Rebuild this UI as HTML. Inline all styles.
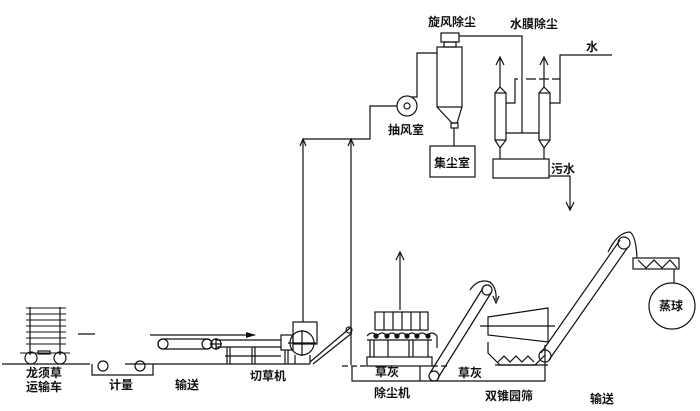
<!DOCTYPE html>
<html><head><meta charset="utf-8"><style>
html,body{margin:0;padding:0;background:#fff;}
svg{display:block}
text{font-family:"Liberation Sans","Noto Sans CJK SC",sans-serif;font-size:12px;font-weight:bold;fill:#111}
</style></head><body>
<svg width="700" height="411" viewBox="0 0 700 411" xmlns="http://www.w3.org/2000/svg">
<defs><marker id="a" viewBox="0 0 10 10" refX="5" refY="2" markerWidth="6" markerHeight="8" orient="auto-start-reverse"><path d="M1,9 L5,1 L9,9" fill="none" stroke="#111" stroke-width="1.5"/></marker></defs>
<g fill="none" stroke="#111" stroke-width="1.2">
<!-- ground -->
<line x1="2" y1="364" x2="90" y2="364"/><line x1="125" y1="364" x2="310" y2="364"/>
<line x1="78" y1="334" x2="95" y2="334"/>
<!-- cart -->
<line x1="30" y1="307" x2="30" y2="355"/><line x1="60" y1="307" x2="60" y2="355"/>
<g stroke-width="1"><line x1="26" y1="308" x2="66" y2="308"/><line x1="26" y1="314" x2="66" y2="314"/><line x1="26" y1="320" x2="66" y2="320"/><line x1="26" y1="326" x2="66" y2="326"/><line x1="26" y1="332" x2="66" y2="332"/><line x1="26" y1="338" x2="66" y2="338"/><line x1="26" y1="344" x2="66" y2="344"/><line x1="20" y1="353" x2="70" y2="353"/></g>
<rect x="38" y="351" width="12" height="3"/>
<circle cx="31" cy="358" r="6"/><circle cx="60" cy="358" r="6"/>
<!-- metering -->
<path d="M92,364 V375 H153 V364"/>
<circle cx="103" cy="366" r="5"/><circle cx="140" cy="366" r="5"/>
<!-- conveyor -->
<line x1="150" y1="335" x2="255" y2="335" marker-end="url(#a)" style="marker-end:none"/>
<path d="M246,332 L256,335 L246,338" fill="#111" stroke="none"/>
<path d="M163,339 H207 A5,5 0 0 1 207,349 H163 A5,5 0 0 1 163,339 Z"/>
<circle cx="163" cy="344" r="5"/><circle cx="207" cy="344" r="5"/>
<circle cx="216" cy="344" r="5"/><line x1="210" y1="344" x2="222" y2="344"/><line x1="216" y1="338" x2="216" y2="350"/>
<line x1="216" y1="340" x2="281" y2="340"/><line x1="216" y1="347" x2="281" y2="347"/><line x1="225" y1="356" x2="281" y2="356"/>
<line x1="227" y1="347" x2="227" y2="364"/><line x1="230" y1="347" x2="230" y2="364"/><line x1="252" y1="347" x2="252" y2="364"/><line x1="255" y1="347" x2="255" y2="364"/><line x1="285" y1="350" x2="285" y2="364"/><line x1="288" y1="350" x2="288" y2="364"/>
<!-- cutter -->
<rect x="293" y="322" width="24" height="22"/>
<rect x="281" y="335" width="12" height="15"/>
<circle cx="302" cy="343" r="12"/><line x1="288" y1="343" x2="316" y2="343"/><line x1="302" y1="330" x2="302" y2="356"/>
<path d="M295,355 V364 M310,355 V364"/>
<path d="M310,362 L350,328 M313,364 L352,333"/><circle cx="349" cy="330" r="3"/>
<!-- suction pipes -->
<line x1="303" y1="322" x2="303" y2="139"/><line x1="351" y1="365" x2="351" y2="139"/>
<path d="M300,146 L303,139 L306,146 M348,146 L351,139 L354,146"/>
<path d="M303,139 H370 V106 H397"/>
<circle cx="407" cy="106" r="10"/><circle cx="407" cy="106" r="3"/>
<path d="M412,97 H417 V53 H437"/>
<!-- cyclone -->
<rect x="441" y="33" width="18" height="9"/><rect x="444" y="42" width="12" height="5"/>
<rect x="437" y="47" width="25" height="60"/>
<path d="M437,107 L452,123 L457,123 L462,107"/><rect x="451" y="123" width="7" height="5"/>
<line x1="454" y1="128" x2="454" y2="146"/>
<rect x="430" y="146" width="45" height="31"/>
<path d="M459,36 H522 V133"/>
<!-- water film -->
<rect x="495" y="93" width="11" height="47"/><path d="M495,93 L500,87 L506,93 M495,140 L500,148 L506,140"/>
<rect x="539" y="93" width="11" height="47"/><path d="M539,93 L544,87 L550,93 M539,140 L544,148 L550,140"/>
<line x1="500" y1="87" x2="500" y2="58"/><line x1="544" y1="87" x2="544" y2="58"/>
<path d="M496,65 L500,57 L504,65 M540,65 L544,57 L548,65"/>
<line x1="506" y1="133" x2="539" y2="133"/>
<path d="M506,103 H515 V79 H518"/><path d="M526,79 H560" stroke-dasharray="10,3"/>
<path d="M612,55 H560 V103 H550"/>
<line x1="500" y1="148" x2="500" y2="159"/><line x1="544" y1="148" x2="544" y2="159"/>
<rect x="493" y="159" width="56" height="19"/>
<path d="M549,176 H570 V210 M566,202 L570,210 L574,202"/>
<!-- dust remover -->
<line x1="400" y1="310" x2="400" y2="252"/><path d="M396,260 L400,252 L404,260"/>
<rect x="375" y="312" width="53" height="18"/>
<path d="M384,312 V330 M393,312 V330 M402,312 V330 M411,312 V330 M420,312 V330"/>
<path d="M367,336 Q372,330 377,336 Q382,330 387,336 Q392,330 397,336 Q402,330 407,336 Q412,330 417,336 Q422,330 427,336 Q432,330 437,336 V348"/>
<g fill="#111"><circle cx="376" cy="336" r="2"/><circle cx="387" cy="336" r="2"/><circle cx="397" cy="336" r="2"/><circle cx="407" cy="336" r="2"/><circle cx="417" cy="336" r="2"/><circle cx="428" cy="336" r="2"/></g>
<line x1="367" y1="340" x2="432" y2="340"/>
<path d="M370,340 V357 M374,340 V357 M388,340 V357 M409,340 V357 M413,340 V357 M428,340 V357"/>
<rect x="367" y="357" width="65" height="9"/>
<path d="M342,366 H367 M432,366 H450" stroke-dasharray="6,3"/>
<path d="M352,366 V381 H545 V355 M420,366 V381"/>
<!-- incline 2 -->
<path d="M430,373 L483,288 M438,378 L491,293"/><circle cx="434" cy="376" r="5"/><circle cx="487" cy="290" r="5"/>
<path d="M470,290 Q478,278 490,282 Q497,288 496,300"/><path d="M493,296 L496,303 L499,296"/>
<!-- screen -->
<path d="M488,317 L548,308 L548,342 L488,335 Z"/><line x1="480" y1="326" x2="555" y2="326"/>
<path d="M488,342 V353 L500,365 H535 L545,355 V345"/>
<path d="M498,362 L504,356 L510,362 L516,356 L522,362 L528,356 L534,362"/>
<line x1="495" y1="365" x2="548" y2="365"/>
<!-- big incline -->
<path d="M541,353 L620,240 M549,360 L628,247"/><circle cx="545" cy="356" r="6"/><circle cx="624" cy="243" r="6"/>
<path d="M608,252 Q618,232 630,232 Q636,236 637,258"/>
<rect x="633" y="258" width="46" height="11"/>
<path d="M638,260 L646,268 L654,260 L662,268 L670,260 L677,268"/>
<line x1="674" y1="269" x2="674" y2="283"/>
<circle cx="672" cy="306" r="23"/>
</g>
<text x="428" y="26">旋风除尘</text>
<text x="510" y="28">水膜除尘</text>
<text x="586" y="51">水</text>
<text x="388" y="134">抽风室</text>
<text x="434" y="167">集尘室</text>
<text x="551" y="173">污水</text>
<text x="26" y="377">龙须草</text>
<text x="26" y="391">运输车</text>
<text x="109" y="389">计量</text>
<text x="175" y="389">输送</text>
<text x="250" y="380">切草机</text>
<text x="375" y="376">草灰</text>
<text x="374" y="397">除尘机</text>
<text x="458" y="377">草灰</text>
<text x="485" y="400">双锥园筛</text>
<text x="590" y="403">输送</text>
<text x="659" y="310">蒸球</text>
</svg>
</body></html>
